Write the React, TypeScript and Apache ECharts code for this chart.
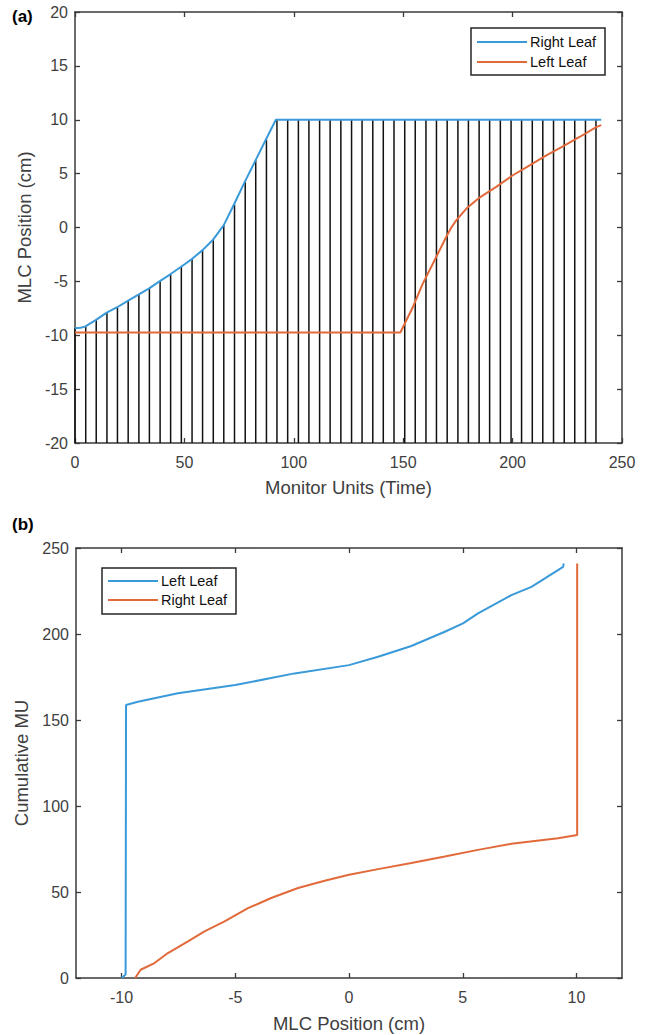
import React, { useEffect, useRef } from "react";
import * as echarts from "echarts";

// ---------- Panel (a): leaf positions vs monitor units ----------
const ticksA_x = [0, 50, 100, 150, 200, 250];
const ticksA_y = [-20, -15, -10, -5, 0, 5, 10, 15, 20];

// control-point MU positions (vertical black lines) and their tops (right leaf position)
const lineMU = [
  0, 4.9, 9.7, 14.6, 19.4, 24.3, 29.2, 34.0, 38.9, 43.7, 48.6, 53.5, 58.3, 63.2, 68.0,
  72.9, 77.8, 82.6, 87.5, 92.3, 97.2, 102.1, 106.9, 111.8, 116.6, 121.5, 126.4, 131.2,
  136.1, 140.9, 145.8, 150.7, 155.5, 160.4, 165.2, 170.1, 175.0, 179.8, 184.7, 189.5,
  194.4, 199.3, 204.1, 209.0, 213.8, 218.7, 223.6, 228.4, 233.3, 238.1,
];
const lineTop = [
  -9.35, -9.2, -8.58, -7.9, -7.4, -6.8, -6.2, -5.65, -4.97, -4.32, -3.64, -2.93, -2.1,
  -1.11, 0.22, 2.16, 4.23, 6.23, 8.15, 10, 10, 10, 10, 10, 10, 10, 10, 10, 10, 10, 10, 10,
  10, 10, 10, 10, 10, 10, 10, 10, 10, 10, 10, 10, 10, 10, 10, 10, 10, 10,
];

// Right leaf curve (blue)
const rightMU_A = [
  0, 2.5, 4.6, 9.6, 14.5, 19.3, 24.3, 29.2, 33.9, 38.8, 43.7, 48.5, 53.4, 58.3, 63.2, 68.0,
  72.7, 77.6, 82.5, 87.2, 91.8, 240.5,
];
const rightPos_A = [
  -9.35, -9.3, -9.2, -8.58, -7.9, -7.4, -6.79, -6.2, -5.65, -4.97, -4.32, -3.64, -2.93, -2.1,
  -1.11, 0.22, 2.16, 4.23, 6.23, 8.15, 10, 10,
];

// Left leaf curve (orange)
const leftMU_A = [
  0, 148.7, 154.5, 159.0, 164.4, 169.7, 172.0, 174.3, 178.9, 184.9, 192.5, 200.1, 207.8,
  215.4, 223.0, 230.6, 238.2, 240.5,
];
const leftPos_A = [
  -9.75, -9.75, -7.35, -5.19, -3.02, -0.86, 0.0, 0.68, 1.76, 2.78, 3.77, 4.85, 5.77, 6.7,
  7.53, 8.4, 9.32, 9.5,
];

// ---------- Panel (b): cumulative MU vs MLC position ----------
const ticksB_x = [-10, -5, 0, 5, 10];
const ticksB_y = [0, 50, 100, 150, 200, 250];

const leftPos_B = [
  -10.0, -9.82, -9.8, -9.28, -7.52, -5.0, -2.39, 0, 1.28, 2.74, 4.21, 5.01, 5.67, 7.14, 8.02,
  8.61, 9.41, 9.44,
];
const leftMU_B = [
  0, 2, 158.7, 160.6, 165.5, 170.3, 177.1, 181.9, 186.8, 193, 201.3, 206.2, 212, 222.6, 227.4,
  232.3, 239, 241,
];

const rightPos_B = [
  -9.4, -9.16, -8.55, -7.96, -7.08, -6.35, -5.47, -4.44, -3.42, -2.24, -1.07, 0, 1.28, 2.74,
  4.21, 5.67, 7.14, 9.19, 10.03, 10.03,
];
const rightMU_B = [
  0, 4.8, 8.7, 14.5, 21.3, 27.1, 32.9, 40.6, 46.5, 52.3, 56.5, 60, 63.3, 66.8, 70.6, 74.5, 78,
  81.3, 83.2, 241,
];

const BLUE = "#3a9ad9";
const ORANGE = "#e2693a";
const AXIS = "#3a3a3a";
const LABEL = "#404040";
const FONT = "Liberation Sans, Arial, sans-serif";

function zip(a: number[], b: number[]) {
  return a.map((v, i) => [v, b[i]]);
}

function axisBase(extra: any) {
  return {
    type: "value",
    splitLine: { show: false },
    axisLine: { show: true, onZero: false, lineStyle: { color: AXIS, width: 1.5 } },
    axisTick: { show: true, inside: true, length: 5, lineStyle: { color: AXIS, width: 1.3 } },
    axisLabel: { color: LABEL, fontSize: 16, fontFamily: FONT },
    nameTextStyle: { color: LABEL, fontSize: 18.5, fontFamily: FONT },
    ...extra,
  };
}

export default function App() {
  const ref = useRef<HTMLDivElement>(null);

  useEffect(() => {
    document.body.style.margin = "0";
    if (!ref.current) return;
    const chart = echarts.init(ref.current, undefined, { renderer: "svg" });

    const legend = (
      x: number,
      y: number,
      h: number,
      items: { name: string; color: string; cy: number }[]
    ) => {
      const els: any[] = [
        {
          type: "rect",
          z: 100,
          shape: { x, y, width: 134, height: h },
          style: { fill: "#fff", stroke: "#262626", lineWidth: 1.5 },
        },
      ];
      items.forEach((it) => {
        els.push({
          type: "line",
          z: 101,
          shape: { x1: x + 6, y1: it.cy, x2: x + 56, y2: it.cy },
          style: { stroke: it.color, lineWidth: 2 },
        });
        els.push({
          type: "text",
          z: 101,
          x: x + 59,
          y: it.cy,
          style: {
            text: it.name,
            fill: "#111",
            font: `14.5px ${FONT}`,
            verticalAlign: "middle",
            align: "left",
          },
        });
      });
      return els;
    };

    const option: any = {
      animation: false,
      backgroundColor: "#fff",
      grid: [
        { left: 75, top: 12, width: 547, height: 431 },
        { left: 76, top: 548, width: 546, height: 430 },
      ],
      xAxis: [
        axisBase({
          gridIndex: 0,
          position: "bottom",
          min: 0,
          max: 250,
          interval: 50,
          name: "Monitor Units (Time)",
          nameLocation: "middle",
          nameGap: 35,
          axisLabel: { color: LABEL, fontSize: 16, fontFamily: FONT, margin: 11 },
        }),
        axisBase({
          gridIndex: 0,
          position: "top",
          min: 0,
          max: 250,
          interval: 50,
          axisLabel: { show: false },
        }),
        axisBase({
          gridIndex: 1,
          position: "bottom",
          min: -12,
          max: 12,
          name: "MLC Position (cm)",
          nameLocation: "middle",
          nameGap: 36,
          axisLabel: {
            color: LABEL,
            fontSize: 16,
            fontFamily: FONT,
            margin: 11,
            customValues: ticksB_x,
          },
          axisTick: {
            show: true,
            inside: true,
            length: 5,
            lineStyle: { color: AXIS, width: 1.3 },
            customValues: ticksB_x,
          },
        }),
        axisBase({
          gridIndex: 1,
          position: "top",
          min: -12,
          max: 12,
          axisLabel: { show: false, customValues: ticksB_x },
          axisTick: {
            show: true,
            inside: true,
            length: 5,
            lineStyle: { color: AXIS, width: 1.3 },
            customValues: ticksB_x,
          },
        }),
      ],
      yAxis: [
        axisBase({
          gridIndex: 0,
          position: "left",
          min: ticksA_y[0],
          max: ticksA_y[ticksA_y.length - 1],
          interval: 5,
          name: "MLC Position (cm)",
          nameLocation: "middle",
          nameGap: 38,
          axisLabel: { color: LABEL, fontSize: 16, fontFamily: FONT, margin: 7 },
        }),
        axisBase({
          gridIndex: 0,
          position: "right",
          min: -20,
          max: 20,
          interval: 5,
          axisLabel: { show: false },
        }),
        axisBase({
          gridIndex: 1,
          position: "left",
          min: ticksB_y[0],
          max: ticksB_y[ticksB_y.length - 1],
          interval: 50,
          name: "Cumulative MU",
          nameLocation: "middle",
          nameGap: 42,
          axisLabel: { color: LABEL, fontSize: 16, fontFamily: FONT, margin: 7 },
        }),
        axisBase({
          gridIndex: 1,
          position: "right",
          min: 0,
          max: 250,
          interval: 50,
          axisLabel: { show: false },
        }),
      ],
      series: [
        {
          type: "custom",
          name: "Control points",
          xAxisIndex: 0,
          yAxisIndex: 0,
          z: 2,
          encode: { x: 0, y: 1 },
          data: zip(lineMU, lineTop),
          renderItem: (params: any, api: any) => {
            const x = api.value(0);
            const top = api.value(1);
            const p0 = api.coord([x, ticksA_y[0]]);
            const p1 = api.coord([x, top]);
            return {
              type: "line",
              shape: { x1: p0[0], y1: p0[1], x2: p1[0], y2: p1[1] },
              style: { stroke: "#111", lineWidth: 1.5 },
            };
          },
        },
        {
          type: "line",
          name: "Right Leaf",
          xAxisIndex: 0,
          yAxisIndex: 0,
          z: 3,
          showSymbol: false,
          data: zip(rightMU_A, rightPos_A),
          lineStyle: { color: BLUE, width: 2 },
          itemStyle: { color: BLUE },
        },
        {
          type: "line",
          name: "Left Leaf",
          xAxisIndex: 0,
          yAxisIndex: 0,
          z: 3,
          showSymbol: false,
          data: zip(leftMU_A, leftPos_A),
          lineStyle: { color: ORANGE, width: 2 },
          itemStyle: { color: ORANGE },
        },
        {
          type: "line",
          name: "Left Leaf (b)",
          xAxisIndex: 2,
          yAxisIndex: 2,
          z: 3,
          showSymbol: false,
          data: zip(leftPos_B, leftMU_B),
          lineStyle: { color: BLUE, width: 2 },
          itemStyle: { color: BLUE },
        },
        {
          type: "line",
          name: "Right Leaf (b)",
          xAxisIndex: 2,
          yAxisIndex: 2,
          z: 3,
          showSymbol: false,
          data: zip(rightPos_B, rightMU_B),
          lineStyle: { color: ORANGE, width: 2 },
          itemStyle: { color: ORANGE },
        },
      ],
      graphic: [
        {
          type: "text",
          x: 12,
          y: 16,
          z: 100,
          style: {
            text: "(a)",
            font: `bold 17px ${FONT}`,
            fill: "#000",
            verticalAlign: "middle",
          },
        },
        {
          type: "text",
          x: 12,
          y: 524,
          z: 100,
          style: {
            text: "(b)",
            font: `bold 17px ${FONT}`,
            fill: "#000",
            verticalAlign: "middle",
          },
        },
        ...legend(471, 28, 47, [
          { name: "Right Leaf", color: BLUE, cy: 42 },
          { name: "Left Leaf", color: ORANGE, cy: 62 },
        ]),
        ...legend(102, 568, 46, [
          { name: "Left Leaf", color: BLUE, cy: 581 },
          { name: "Right Leaf", color: ORANGE, cy: 600 },
        ]),
      ],
    };

    chart.setOption(option);
    return () => chart.dispose();
  }, []);

  return <div ref={ref} style={{ width: 647, height: 1035 }} />;
}
